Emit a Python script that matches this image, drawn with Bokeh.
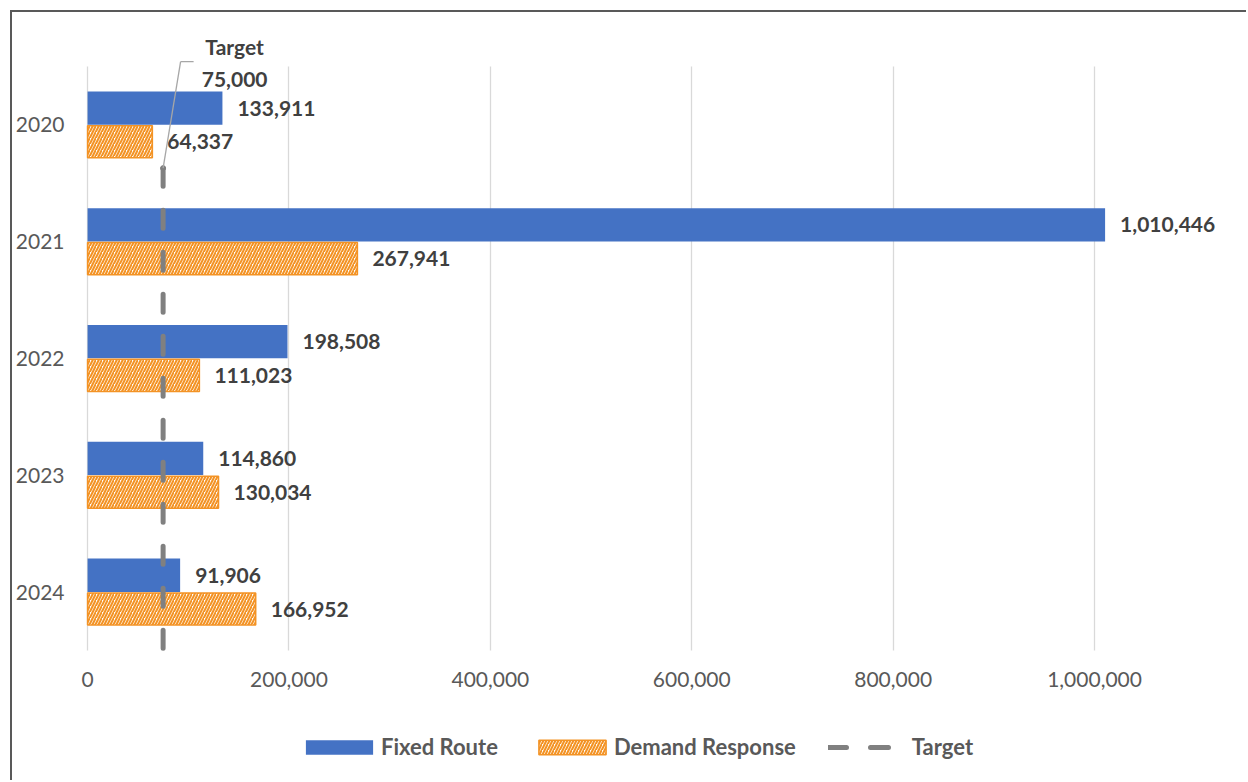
from bokeh.plotting import figure
from bokeh.models import (Range1d, FixedTicker, NumeralTickFormatter, LabelSet, Label,
                          Legend, LegendItem, ColumnDataSource, Arrow)
from bokeh.core.properties import value
from bokeh.transform import dodge
from bokeh.embed import file_html
from bokeh.resources import INLINE

# ---- data ----
years = ["2020", "2021", "2022", "2023", "2024"]
fixed_route = [133911, 1010446, 198508, 114860, 91906]
demand_response = [64337, 267941, 111023, 130034, 166952]
target = 75000
target_top = 4.13          # category coordinate where the target series starts
x_ticks = [0, 200000, 400000, 600000, 800000, 1000000]

# ---- style ----
BLUE = "#4472C4"
ORANGE = "#F39325"
GRAY = "#808080"
TXT = "#595959"
LBL = "#404040"
FONT = "Lato"

W, H = 1246, 780
FL, FT, FR, FB = 75, 20, 19, 10
XMIN, XMAX = -12000, 1132000
n = len(years)
YTOP = n + 0.394
YBOT = -1.027
pos = [n - i - 0.5 for i in range(n)]
BAR_H = 0.285
OFF = 0.1445

frame_css = {
    "background-color": "white",
    "background-image": "linear-gradient(#595959, #595959), linear-gradient(#595959, #595959)",
    "background-size": "2px 100%, 100% 2px",
    "background-position": "10px 10px, 10px 10px",
    "background-repeat": "no-repeat",
}

p = figure(width=W, height=H, output_backend="svg", toolbar_location=None,
           x_range=Range1d(XMIN, XMAX), y_range=Range1d(YBOT, YTOP),
           min_border_left=FL, min_border_top=FT, min_border_right=FR, min_border_bottom=FB,
           outline_line_color=None, background_fill_color="white",
           border_fill_color="white", border_fill_alpha=0, styles=frame_css)

# axes
p.xaxis.fixed_location = 0
p.xaxis.ticker = FixedTicker(ticks=x_ticks)
p.xaxis.formatter = NumeralTickFormatter(format="0,0")
p.xaxis.axis_line_color = None
p.xaxis.major_tick_line_color = None
p.xaxis.minor_tick_line_color = None
p.xaxis.major_label_standoff = 15
p.xaxis.major_label_text_font = FONT
p.xaxis.major_label_text_font_size = "21px"
p.xaxis.major_label_text_color = TXT

p.yaxis.ticker = FixedTicker(ticks=pos)
p.yaxis.major_label_overrides = {pv: y for pv, y in zip(pos, years)}
p.yaxis.axis_line_color = None
p.yaxis.major_tick_line_color = None
p.yaxis.minor_tick_line_color = None
p.yaxis.major_label_standoff = 5
p.yaxis.major_label_text_font = FONT
p.yaxis.major_label_text_font_size = "21px"
p.yaxis.major_label_text_color = TXT

p.xgrid.ticker = FixedTicker(ticks=x_ticks)
p.xgrid.grid_line_color = "#D9D9D9"
p.xgrid.grid_line_width = 1.3
p.xgrid.cross_bounds = (0, n)
p.ygrid.visible = False

src = ColumnDataSource(dict(
    pos=pos, year=years, fixed=fixed_route, demand=demand_response,
    fixed_lbl=[f"{v:,}" for v in fixed_route],
    demand_lbl=[f"{v:,}" for v in demand_response],
))

r1 = p.hbar(y=dodge("pos", OFF, range=p.y_range), left=0, right="fixed", height=BAR_H,
            fill_color=BLUE, line_color=None, source=src)
r2 = p.hbar(y=dodge("pos", -OFF, range=p.y_range), left=0, right="demand", height=BAR_H - 0.01,
            fill_color="white", line_color=ORANGE, line_width=1.5,
            hatch_pattern="/", hatch_color=ORANGE, hatch_scale=6, hatch_weight=2.1, source=src)

r3 = p.line(x=[target, target], y=[target_top, 0], line_color=GRAY, line_width=5,
            line_dash="18 24", line_cap="round")

# data labels
common = dict(text_font=value(FONT), text_font_size="21px", text_font_style="bold", text_color=LBL,
              text_baseline="middle", text_align="left", x_offset=15, source=src)
p.add_layout(LabelSet(x="fixed", y=dodge("pos", OFF, range=p.y_range), text="fixed_lbl", **common))
p.add_layout(LabelSet(x="demand", y=dodge("pos", -OFF, range=p.y_range), text="demand_lbl", **common))

# target label with leader line
for txt, yo in (("Target", 20), (f"{target:,}", -13)):
    p.add_layout(Label(x=target, y=n, x_offset=71.5, y_offset=yo, text=txt, text_align="center",
                       text_baseline="alphabetic", text_font=FONT, text_font_size="21px",
                       text_font_style="bold", text_color=LBL))

sx = (W - FL - FR) / (XMAX - XMIN)
sy = (H - FT - FB) / (YTOP - YBOT)
def to_data(dx, dy):
    return target + dx / sx, target_top - dy / sy
bx, by = to_data(17.5, -106.5)
ax, ay = to_data(30.5, -106.5)
p.add_layout(Arrow(end=None, x_start=target, y_start=target_top, x_end=bx, y_end=by,
                   line_color="#A6A6A6", line_width=1.3))
p.add_layout(Arrow(end=None, x_start=bx, y_start=by, x_end=ax, y_end=ay,
                   line_color="#A6A6A6", line_width=1.3))
p.scatter(x=[target], y=[target_top], size=5, color="#7F7F7F")

legend = Legend(items=[LegendItem(label="Fixed Route", renderers=[r1]),
                       LegendItem(label="Demand Response", renderers=[r2]),
                       LegendItem(label="Target", renderers=[r3])],
                orientation="horizontal", location=(222, 10),
                glyph_width=84, glyph_height=18, label_standoff=0, spacing=32,
                padding=0, margin=0, border_line_alpha=0, background_fill_alpha=0,
                label_text_font=FONT, label_text_font_size="22px", label_text_font_style="bold",
                label_text_color=TXT)
p.add_layout(legend)

open("out.html", "w").write(file_html(p, INLINE))
